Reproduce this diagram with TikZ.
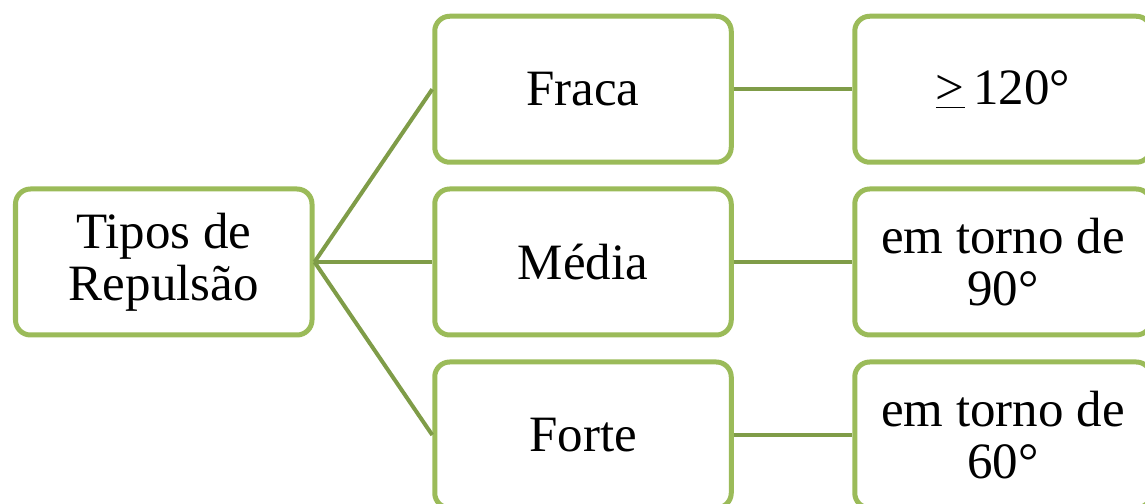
\documentclass[tikz,border=0pt]{standalone}
\usepackage{fontspec}
\setmainfont{Liberation Serif}
\usepackage{tikz}
\usetikzlibrary{positioning}
\definecolor{rpgreen}{HTML}{9BBB59}
\definecolor{rpline}{HTML}{7F9C48}

\begin{document}
\begin{tikzpicture}[x=1cm,y=1cm,
    rpbox/.style={draw=rpgreen,line width=0.1cm,fill=white,rounded corners=0.3cm,
      minimum width=5.93cm,minimum height=2.92cm,align=center,
      font=\fontsize{29}{29.5}\selectfont},
    rplink/.style={draw=rpline,line width=0.08cm}]
  \useasboundingbox (0,0) rectangle (22.9,10.08);
  % left column
  \node[rpbox] (tipos) at (3.275,4.84) {Tipos de\\Repulsão};
  % middle column
  \node[rpbox] (fraca) at (11.66,8.295) {Fraca};
  \node[rpbox] (media) at (11.66,4.84) {Média};
  \node[rpbox] (forte) at (11.66,1.38) {Forte};
  % right column
  \node[rpbox] (ang120) at (20.06,8.295) {\underline{>}\,120°};
  \node[rpbox] (ang90) at (20.06,4.84) {em torno de\\90°};
  \node[rpbox] (ang60) at (20.06,1.38) {em torno de\\60°};
  % links
  \draw[rplink] (tipos.east) -- (fraca.west);
  \draw[rplink] (tipos.east) -- (media.west);
  \draw[rplink] (tipos.east) -- (forte.west);
  \draw[rplink] (fraca.east) -- (ang120.west);
  \draw[rplink] (media.east) -- (ang90.west);
  \draw[rplink] (forte.east) -- (ang60.west);
\end{tikzpicture}
\end{document}
